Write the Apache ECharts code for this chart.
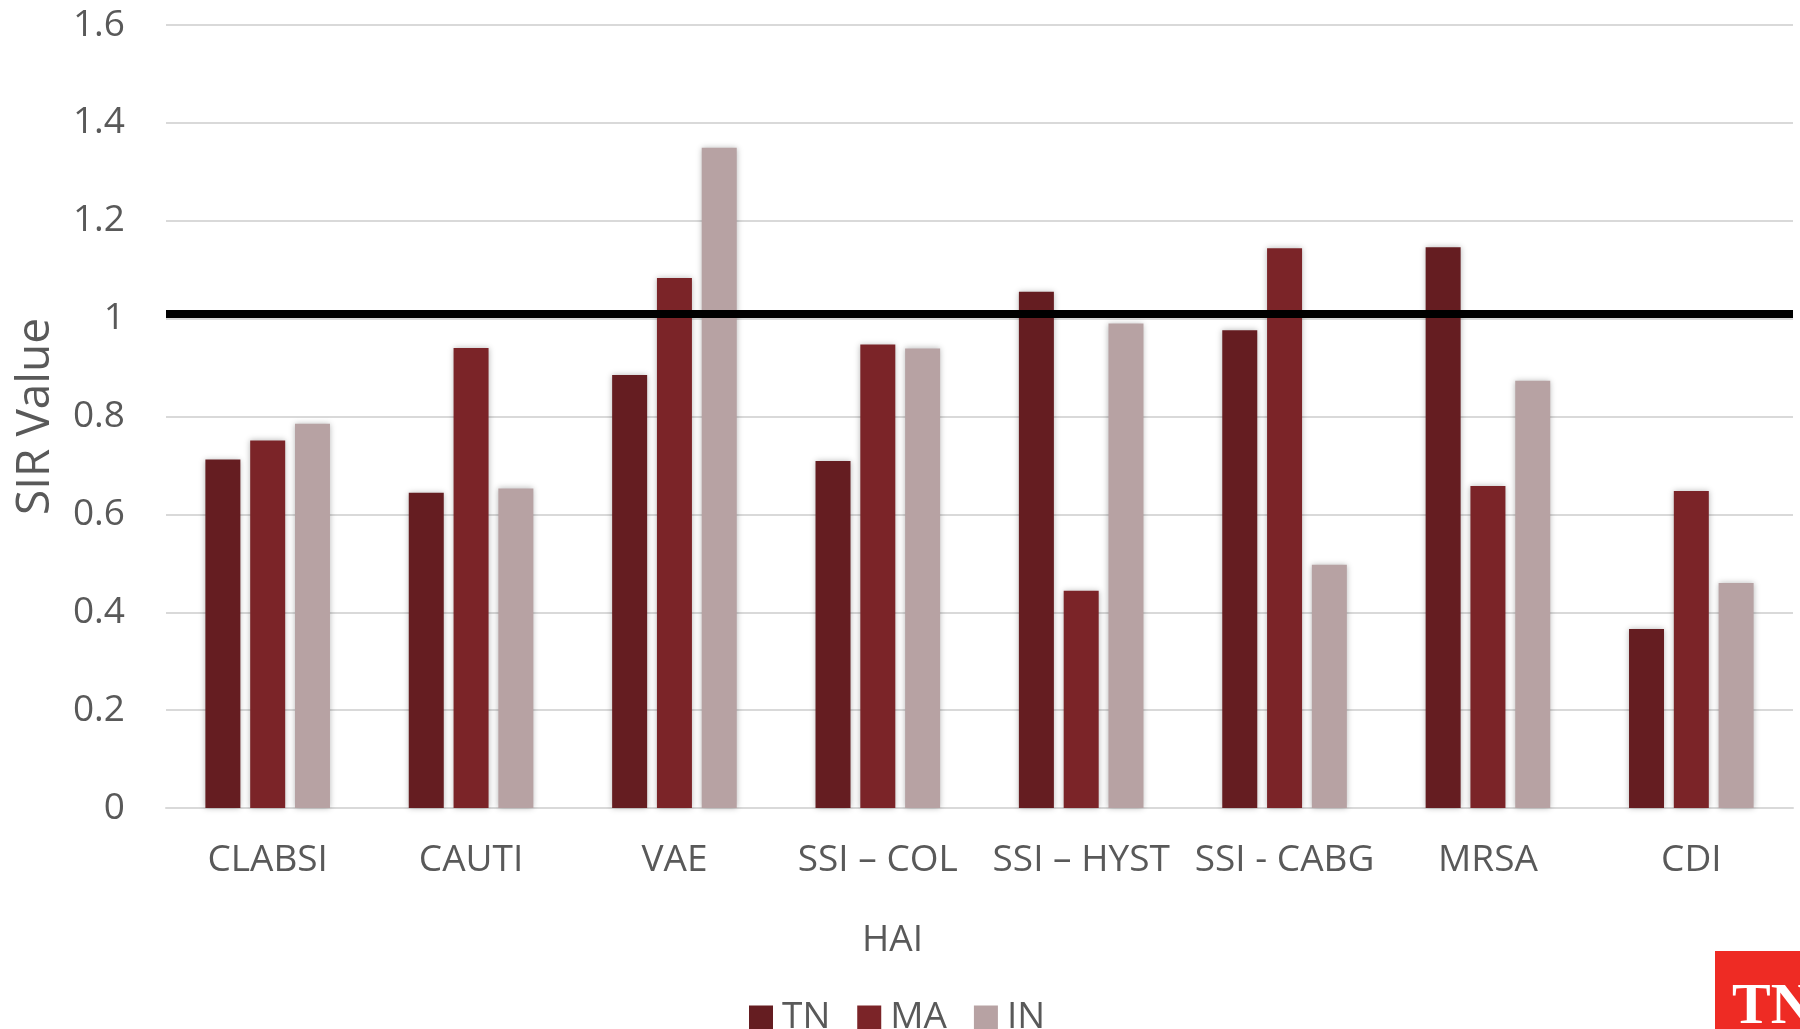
<!DOCTYPE html>
<html>
<head>
<meta charset="utf-8">
<script src="https://cdn.jsdelivr.net/npm/echarts@6/dist/echarts.min.js"></script>
<style>
  html, body { margin: 0; padding: 0; background: #ffffff; }
  #chart { width: 1800px; height: 1029px; }
</style>
</head>
<body>
<div id="chart"></div>
<script>
// Healthcare-associated infection categories
const categories = ['CLABSI', 'CAUTI', 'VAE', 'SSI \u2013 COL', 'SSI \u2013 HYST', 'SSI - CABG', 'MRSA', 'CDI'];

// Standardized infection ratio per state
const tnValues = [0.712, 0.644, 0.885, 0.709, 1.055, 0.976, 1.146, 0.366];
const maValues = [0.751, 0.940, 1.083, 0.947, 0.444, 1.144, 0.658, 0.648];
const inValues = [0.785, 0.653, 1.349, 0.939, 0.990, 0.497, 0.873, 0.460];

const seriesNames = ['TN', 'MA', 'IN'];
const seriesColors = ['#651D21', '#7B2428', '#B7A2A3'];

// Reference line across the chart
const benchmarkValue = 1.012;

// Y axis range
const yMin = 0;
const yMax = 1.6;
const yStep = 0.2;

const FONT = '"Open Sans", "Noto Sans", sans-serif';
const TEXT_COLOR = '#595959';

const chart = echarts.init(document.getElementById('chart'), null, { renderer: 'canvas' });

const dataSets = [tnValues, maValues, inValues];

const series = dataSets.map((vals, i) => {
  const s = {
    name: seriesNames[i],
    type: 'bar',
    data: vals,
    barWidth: 35,
    barGap: '28%',
    itemStyle: {
      color: seriesColors[i],
      shadowBlur: 6,
      shadowColor: 'rgba(0,0,0,0.28)'
    },
    emphasis: { disabled: true },
    animation: false
  };
  if (i === dataSets.length - 1) {
    s.markLine = {
      silent: true,
      symbol: ['none', 'none'],
      label: { show: false },
      lineStyle: { color: '#000000', width: 8, type: 'solid' },
      data: [{ yAxis: benchmarkValue }],
      animation: false,
      z: 10
    };
  }
  return s;
});

const option = {
  backgroundColor: '#ffffff',
  animation: false,
  grid: {
    left: 166,
    right: 7,
    top: 25,
    bottom: 221,
    containLabel: false
  },
  legend: {
    data: seriesNames,
    left: 744,
    top: 994,
    icon: 'rect',
    itemWidth: 24,
    itemHeight: 24,
    itemGap: 27,
    textStyle: {
      fontFamily: FONT,
      fontSize: 37,
      color: TEXT_COLOR,
      padding: [0, 0, 0, 4]
    },
    selectedMode: false
  },
  xAxis: {
    type: 'category',
    data: categories,
    name: 'HAI',
    nameLocation: 'middle',
    nameGap: 114,
    nameTextStyle: {
      fontFamily: FONT,
      fontSize: 37,
      color: TEXT_COLOR,
      // the title sits left of the plot centre
      padding: [0, 174, 0, 0]
    },
    axisLine: { show: true, lineStyle: { color: '#D9D9D9', width: 2 } },
    axisTick: { show: false },
    axisLabel: {
      fontFamily: FONT,
      fontSize: 37,
      color: TEXT_COLOR,
      margin: 34,
      interval: 0
    }
  },
  yAxis: {
    type: 'value',
    min: yMin,
    max: yMax,
    interval: yStep,
    name: 'SIR Value',
    nameLocation: 'middle',
    nameRotate: 90,
    nameGap: 107,
    nameTextStyle: {
      fontFamily: FONT,
      fontSize: 46,
      color: TEXT_COLOR
    },
    axisLine: { show: false },
    axisTick: { show: false },
    splitLine: { show: true, lineStyle: { color: '#D9D9D9', width: 2 } },
    axisLabel: {
      fontFamily: FONT,
      fontSize: 37,
      color: TEXT_COLOR,
      margin: 41
    }
  },
  series: series,
  graphic: [
    {
      type: 'group',
      left: 1715,
      top: 951,
      children: [
        {
          type: 'rect',
          shape: { x: 0, y: 0, width: 100, height: 90 },
          style: { fill: '#EE2B24' }
        },
        {
          type: 'text',
          x: 17,
          y: 28,
          style: {
            text: 'TN',
            fill: '#ffffff',
            font: 'bold 58px "Liberation Serif", "DejaVu Serif", serif',
            textVerticalAlign: 'top'
          }
        }
      ]
    }
  ]
};

chart.setOption(option);
</script>
</body>
</html>
